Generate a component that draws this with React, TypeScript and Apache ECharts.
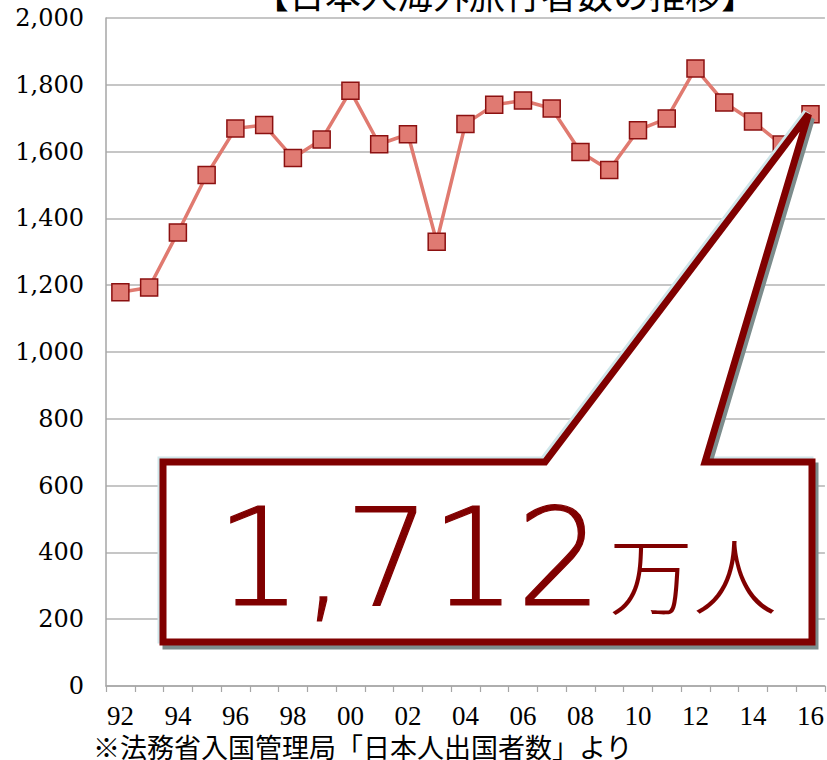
import React, { useEffect, useRef } from "react";
import * as echarts from "echarts";

const years = ["92","93","94","95","96","97","98","99","00","01","02","03","04","05","06","07","08","09","10","11","12","13","14","15","16"];
const travelers = [1179,1193,1358,1530,1669,1680,1581,1636,1782,1622,1652,1330,1683,1740,1753,1729,1599,1545,1664,1699,1849,1747,1690,1621,1712];
const yTicks = { min: 0, max: 2000, interval: 200 };
const titleText = "【日本人海外旅行者数の推移】";
const noteText = "※法務省入国管理局「日本人出国者数」より";
const calloutNumber = "1,712";
const calloutUnit = "万人";

export default function App() {
  const ref = useRef<HTMLDivElement>(null);
  useEffect(() => {
    const chart = echarts.init(ref.current!, null, { renderer: "svg" });
    const option: any = {
      animation: false,
      backgroundColor: "#ffffff",
      grid: { left: 106, right: 1, top: 18, bottom: 74 },
      xAxis: {
        type: "category",
        data: years,
        boundaryGap: true,
        axisLine: { lineStyle: { color: "#a6a6a6", width: 1.5 } },
        axisTick: { show: true, length: 6, interval: 0, lineStyle: { color: "#a6a6a6", width: 1.2 } },
        axisLabel: { interval: 1, margin: 16, fontFamily: "Liberation Serif", fontSize: 27, color: "#000" },
      },
      yAxis: {
        type: "value",
        min: yTicks.min,
        max: yTicks.max,
        interval: yTicks.interval,
        axisLine: { show: true, lineStyle: { color: "#a6a6a6", width: 1.5 } },
        axisTick: { show: false },
        splitLine: { lineStyle: { color: "#b3b3b3", width: 1.5 } },
        axisLabel: {
          margin: 22,
          fontFamily: "DejaVu Serif",
          fontSize: 24,
          color: "#000",
          formatter: (v: number) => v.toLocaleString("en-US"),
        },
      },
      series: [
        {
          type: "line",
          data: travelers,
          symbol: "rect",
          symbolSize: 17,
          lineStyle: { color: "#e07a70", width: 3.5 },
          itemStyle: { color: "#e07a72", borderColor: "#8b1010", borderWidth: 1.5 },
          z: 3,
        },
      ],
    };
    chart.setOption(option);

    const last = travelers.length - 1;
    const tipPx = chart.convertToPixel({ seriesIndex: 0 }, [last, travelers[last]]) as number[];
    const tip = [tipPx[0] - 2, tipPx[1]];
    const L = 163, R = 812, T = 462, B = 642, b1 = 545, b2 = 705;
    const pts = (dx: number, dy: number) =>
      [[L, T], [b1, T], tip, [b2, T], [R, T], [R, B], [L, B]].map((p) => [p[0] + dx, p[1] + dy]);

    chart.setOption({
      graphic: [
        {
          type: "text",
          style: {
            text: titleText,
            x: 505,
            y: -7,
            align: "center",
            verticalAlign: "middle",
            fontFamily: "Noto Sans CJK JP",
            fontSize: 36,
            fill: "#000",
          },
          z: 100,
        },
        {
          type: "polygon",
          shape: { points: pts(-2, -2) },
          style: { fill: "none", stroke: "#cfe6ea", lineWidth: 7, lineJoin: "miter" },
          z: 100,
        },
        {
          type: "polygon",
          shape: { points: pts(3, 4) },
          style: { fill: "#7c8c8c", stroke: "#7c8c8c", lineWidth: 7, lineJoin: "miter" },
          z: 101,
        },
        {
          type: "polygon",
          shape: { points: pts(0, 0) },
          style: { fill: "#ffffff", stroke: "#800000", lineWidth: 7, lineJoin: "miter" },
          z: 102,
        },
        {
          type: "text",
          style: {
            text: calloutNumber,
            x: 216,
            y: 558,
            align: "left",
            verticalAlign: "middle",
            fontFamily: "DejaVu Sans",
            fontWeight: 200,
            fontSize: 135,
            fill: "#800000",
            stroke: "#800000",
            lineWidth: 1.2,
          },
          z: 103,
        },
        {
          type: "text",
          style: {
            text: calloutUnit,
            x: 609,
            y: 571,
            align: "left",
            verticalAlign: "middle",
            fontFamily: "Noto Sans CJK JP",
            fontWeight: 300,
            fontSize: 84,
            fill: "#800000",
          },
          z: 103,
        },
        {
          type: "text",
          style: {
            text: noteText,
            x: 93,
            y: 746,
            align: "left",
            verticalAlign: "middle",
            fontFamily: "Noto Sans CJK JP",
            fontSize: 27,
            fill: "#000",
          },
          z: 100,
        },
      ],
    });
    return () => chart.dispose();
  }, []);
  return <div ref={ref} style={{ width: 827, height: 760, position: "absolute", left: 0, top: 0 }} />;
}
